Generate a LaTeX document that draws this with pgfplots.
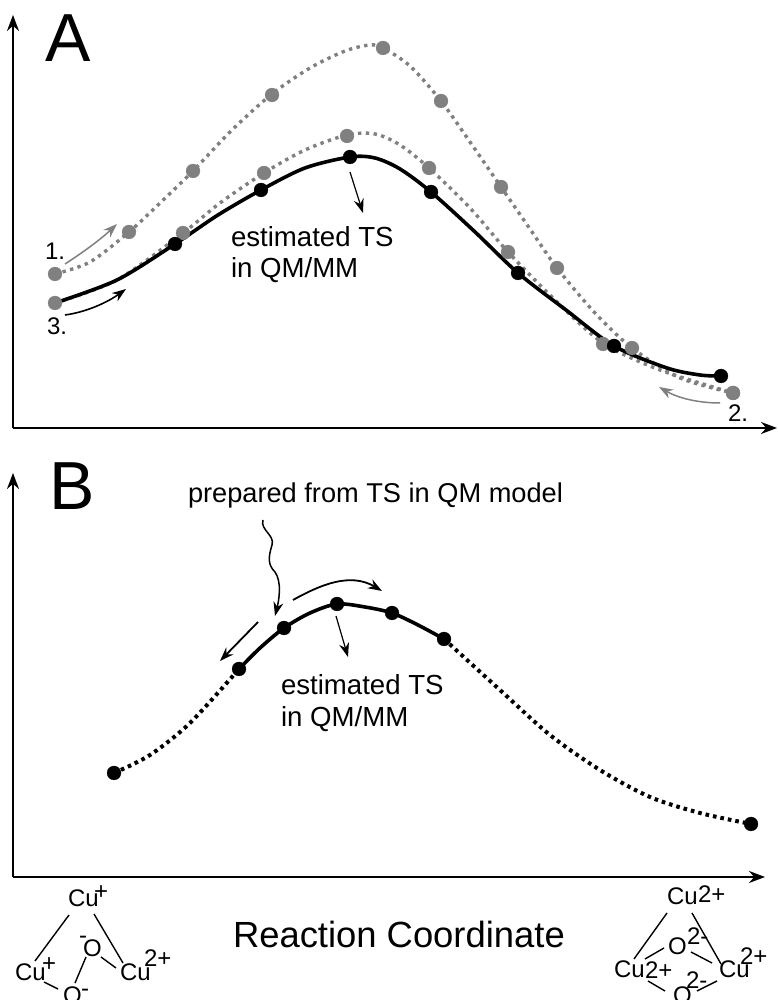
\documentclass[border=0pt]{standalone}
\usepackage{fontspec}
\setmainfont{Liberation Sans}
\usepackage{pgfplots}
\pgfplotsset{compat=1.18}
\usetikzlibrary{arrows.meta}
\definecolor{pt}{HTML}{808080}
\newcommand{\T}[4]{\node[anchor=base west,inner sep=0pt,outer sep=0pt,font=\fontsize{#3pt}{#3pt}\selectfont] at (#1,#2) {#4};}
\pgfplotsset{panel/.style={
  scale only axis, clip=false, axis lines=left, xtick=\empty, ytick=\empty,
  xmin=0, ymin=0, axis line style={line width=2pt,-{Stealth[length=16pt,width=12pt]}}},
  sdot/.style={line width=3.4pt,pt,dash pattern=on 3.4pt off 4.4pt,smooth,no marks},
  kdot/.style={line width=4pt,black,dash pattern=on 3.6pt off 4pt,smooth,no marks},
  ksol/.style={line width=3.6pt,black,smooth,no marks},
  gm/.style={only marks,pt,mark=*,mark size=7pt,mark options={solid,fill=pt,draw=pt,line width=0.2pt}},
  km/.style={only marks,black,mark=*,mark size=7pt,mark options={solid,fill=black,draw=black,line width=0.2pt}}}
\begin{document}
\begin{tikzpicture}[x=1pt,y=1pt]
\useasboundingbox (0,0) rectangle (777,1000);
% Panel A: x = px-13, y = 428-py
\begin{axis}[panel,at={(13pt,572pt)},anchor=origin,width=764pt,height=413pt,xmax=764,ymax=413]
% curve 1
\addplot[sdot] coordinates {(42,154)(77,166)(116,196)(147,225)(180,257)(219,298)(259,334)(297,360)(332,377)(357,383)(370,380)(397,362)(428,327)(457,286)(488,241)(517,199)(544,160)(582,115)(619,80)(667,50)(720,35)};
\addplot[gm] coordinates {(42,154)(116,196)(180,257)(259,333)(370,380)(428,327)(488,241)(544,160)(619,80)(720,35)};
% curve 2
\addplot[sdot] coordinates {(42,125)(104,148)(170,195)(207,225)(251,255)(292,278)(334,293)(362,294)(387,283)(416,260)(457,220)(495,176)(542,128)(590,85)(647,58)(720,35)};
\addplot[gm] coordinates {(170,195)(251,255)(334,292)(416,260)(495,176)(590,84)(720,35)};
% curve 3
\addplot[ksol] coordinates {(42,125)(104,148)(162,184)(205,213)(248,238)(292,260)(337,271)(362,270)(387,259)(418,236)(461,197)(505,155)(553,118)(601,82)(654,60)(687,53)(708,52)};
\addplot[km] coordinates {(162,184)(248,238)(337,271)(418,236)(505,155)(601,82)(708,52)};
\addplot[gm] coordinates {(42,125)};
\end{axis}
% Panel B: x = px-13, y = 877-py
\begin{axis}[panel,at={(13pt,123pt)},anchor=origin,width=752pt,height=404pt,xmax=752,ymax=404]
\addplot[kdot] coordinates {(101,104)(137,122)(177,154)(226,208)};
\addplot[kdot] coordinates {(431,238)(487,187)(537,142)(587,107)(637,80)(687,64)(738,53)};
\addplot[ksol] coordinates {(226,208)(247,229)(271,249)(297,264)(324,273)(352,270)(379,264)(405,252)(431,238)};
\addplot[km] coordinates {(101,104)(226,208)(271,249)(324,273)(379,264)(431,238)(738,53)};
\end{axis}
\begin{scope}[x=1pt,y=-1pt,yshift=1000pt]
\T{45}{62}{68}{A}
\T{49}{510}{68}{B}
\T{45}{260}{24}{1.}
\T{47}{335}{24}{3.}
\T{728}{422}{24}{2.}
\T{231}{247}{27.6}{estimated TS}
\T{231}{278}{27.6}{in QM/MM}
\T{281}{695}{27.6}{estimated TS}
\T{281}{727}{27.6}{in QM/MM}
\T{188}{503}{27.2}{prepared from TS in QM model}
\T{233}{948}{36.4}{Reaction Coordinate}
% panel A arrows
\draw[pt,line width=1.5pt,-{Stealth[length=14pt,width=10pt]}] (65,264) .. controls (82,253) and (100,240) .. (117,224);
\draw[black,line width=1.6pt,-{Stealth[length=14pt,width=10pt]}] (65,315) .. controls (87,312) and (108,302) .. (126,289);
\draw[pt,line width=1.5pt,-{Stealth[length=14pt,width=10pt]}] (720,403) .. controls (698,403) and (678,398) .. (659,387);
\draw[black,line width=1.2pt,-{Stealth[length=14pt,width=10pt]}] (350,172) -- (363,213);
% panel B arrows
\draw[black,line width=1.2pt,-{Stealth[length=14pt,width=10pt]}] (336,616) -- (348,657);
\draw[black,line width=1.8pt,-{Stealth[length=14pt,width=10pt]}] (258,622) -- (220,661);
\draw[black,line width=1.8pt,-{Stealth[length=14pt,width=10pt]}] (293,600) .. controls (320,585) and (350,572) .. (382,591);
\draw[black,line width=1.5pt,-{Stealth[length=14pt,width=10pt]}] (263,520) .. controls (260,530) and (275,535) .. (272,545) .. controls (268,558) and (268,565) .. (275,572) .. controls (282,582) and (279,600) .. (275,616);
% left cluster
\T{68}{907}{24}{Cu}
\T{94}{900}{24}{+}
\T{15}{981}{24}{Cu}
\T{42}{972}{24}{+}
\T{120}{981}{24}{Cu}
\T{144}{967}{24}{2+}
\T{83}{957}{24}{O}
\T{79}{944}{24}{-}
\T{63}{1003}{24}{O}
\T{81}{996}{24}{-}
\draw[line width=1.4pt] (69,915)--(35,961) (94,914)--(123,963) (86,957)--(75,983) (101,957)--(116,968) (44,982)--(58,989);
% right cluster
\T{667}{905}{24}{Cu}
\T{698}{903}{24}{2+}
\T{614}{978}{24}{Cu}
\T{645}{979}{24}{2+}
\T{719}{978}{24}{Cu}
\T{740}{965}{24}{2+}
\T{668}{955}{24}{O}
\T{687}{945}{24}{2-}
\T{673}{1003}{24}{O}
\T{686}{988}{24}{2-}
\draw[line width=1.4pt] (667,913)--(634,959) (692,913)--(721,964) (664,948)--(645,959) (691,952)--(712,963) (648,981)--(665,991) (697,991)--(717,981);
\end{scope}
\end{tikzpicture}
\end{document}
